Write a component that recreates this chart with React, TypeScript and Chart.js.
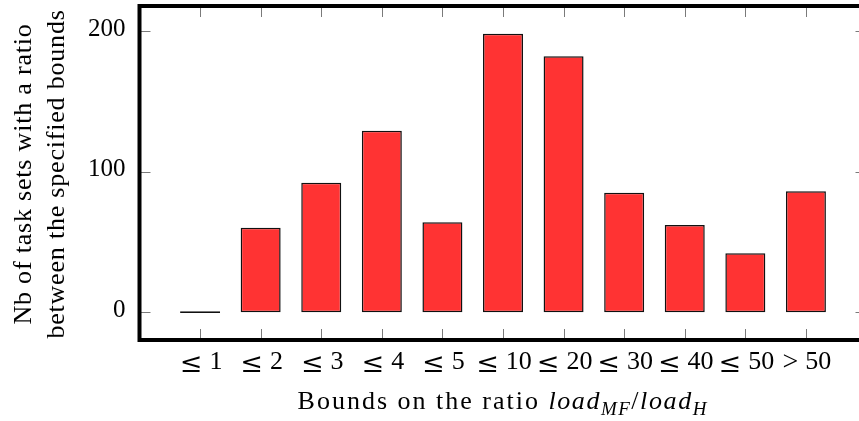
import { useEffect, useRef } from "react";
import { Chart, registerables } from "chart.js";

Chart.register(...registerables);

// ---- data ----
const categories = ["≤ 1", "≤ 2", "≤ 3", "≤ 4", "≤ 5", "≤ 10", "≤ 20", "≤ 30", "≤ 40", "≤ 50", "> 50"];
const counts = [0, 60, 92, 129, 64, 198, 182, 85, 62, 42, 86];
const yTicks = [0, 100, 200];
const yMin = -19.8;
const yMax = 217.8;
const yTitleLines = ["Nb of task sets with a ratio", "between the specified bounds"];
const xTitleRoman = "Bounds on the ratio ";
const xTitleNum = "load";
const xTitleNumSub = "MF";
const xTitleSlash = "/";
const xTitleDen = "load";
const xTitleDenSub = "H";

// padded with an empty slot at each end (axis enlarged by one category on each side)
const labels = ["", ...categories, ""];
const values: (number | null)[] = [null, ...counts, null];

const SERIF = "'Liberation Serif', 'Times New Roman', serif";
const MATH = "'DejaVu Serif', serif";

const framePlugin = {
  id: "pgfFrame",
  afterDraw(chart: any) {
    const { ctx, chartArea } = chart;
    const { left, right, top, bottom } = chartArea;
    const xs = chart.scales.x;
    const ys = chart.scales.y;
    ctx.save();
    // inward ticks
    ctx.strokeStyle = "#7a7a7a";
    ctx.lineWidth = 1;
    ctx.beginPath();
    labels.forEach((lab, i) => {
      if (!lab) return;
      const px = Math.round(xs.getPixelForValue(i)) + 0.5;
      ctx.moveTo(px, top);
      ctx.lineTo(px, top + 11);
      ctx.moveTo(px, bottom);
      ctx.lineTo(px, bottom - 11);
    });
    yTicks.forEach((v) => {
      const py = Math.round(ys.getPixelForValue(v)) + 0.5;
      ctx.moveTo(left, py);
      ctx.lineTo(left + 11, py);
      ctx.moveTo(right, py);
      ctx.lineTo(right - 11, py);
    });
    ctx.stroke();

    // thick frame
    ctx.strokeStyle = "#000";
    ctx.lineWidth = 4;
    ctx.strokeRect(left, top, right - left, bottom - top);

    ctx.fillStyle = "#000";
    ctx.textBaseline = "alphabetic";

    // x tick labels: relation symbol + number
    ctx.textAlign = "left";
    const labBase = bottom + 29;
    labels.forEach((lab, i) => {
      if (!lab) return;
      const [sym, num] = lab.split(" ");
      const px = xs.getPixelForValue(i);
      const symFont = sym === "≤" ? `27px ${MATH}` : `28px ${SERIF}`;
      ctx.font = symFont;
      const ws = ctx.measureText(sym).width;
      ctx.font = `26px ${SERIF}`;
      const wn = ctx.measureText(num).width;
      const gap = 7;
      const x0 = px - (ws + gap + wn) / 2 + 1;
      ctx.font = symFont;
      ctx.fillText(sym, x0, labBase + (sym === "≤" ? 3 : 1));
      ctx.font = `26px ${SERIF}`;
      ctx.fillText(num, x0 + ws + gap, labBase);
    });

    // y title (two lines, rotated)
    ctx.font = `26px ${SERIF}`;
    (ctx as any).letterSpacing = "0.8px";
    ctx.textAlign = "center";
    const cy = (top + bottom) / 2 + 1;
    const baseX = [31, 64];
    yTitleLines.forEach((line, i) => {
      ctx.save();
      ctx.translate(baseX[i], cy);
      ctx.rotate(-Math.PI / 2);
      ctx.fillText(line, 0, 0);
      ctx.restore();
    });

    // x title with italic math and subscripts
    const runs = [
      { t: xTitleRoman, f: `26px ${SERIF}`, dy: 0, ls: "2px" },
      { t: xTitleNum, f: `italic 26px ${SERIF}`, dy: 0, ls: "1.6px" },
      { t: xTitleNumSub, f: `italic 19px ${SERIF}`, dy: 6, ls: "1.4px" },
      { t: xTitleSlash, f: `26px ${SERIF}`, dy: 0, ls: "1.6px" },
      { t: xTitleDen, f: `italic 26px ${SERIF}`, dy: 0, ls: "1.6px" },
      { t: xTitleDenSub, f: `italic 19px ${SERIF}`, dy: 6, ls: "0px" },
    ];
    ctx.textAlign = "left";
    let total = 0;
    const widths = runs.map((r) => {
      ctx.font = r.f;
      (ctx as any).letterSpacing = r.ls;
      const w = ctx.measureText(r.t).width;
      total += w;
      return w;
    });
    let x = 502 - total / 2;
    const baseY = 409;
    runs.forEach((r, i) => {
      ctx.font = r.f;
      (ctx as any).letterSpacing = r.ls;
      ctx.fillText(r.t, x, baseY + r.dy);
      x += widths[i];
    });
    ctx.restore();
  },
};

export default function App() {
  const ref = useRef<HTMLCanvasElement | null>(null);

  useEffect(() => {
    if (!ref.current) return;
    const chart = new Chart(ref.current, {
      type: "bar",
      data: {
        labels,
        datasets: [
          {
            data: values,
            backgroundColor: "#ff3333",
            borderColor: "#111",
            borderWidth: 1.5,
            borderSkipped: false,
            minBarLength: 1.6,
            categoryPercentage: 1,
            barPercentage: 0.66,
          },
        ],
      },
      options: {
        animation: false,
        responsive: false,
        layout: { padding: { left: 0, right: 13.5, top: 6, bottom: 0 } },
        plugins: { legend: { display: false }, tooltip: { enabled: false } },
        scales: {
          x: {
            type: "category",
            offset: false,
            grid: { display: false, drawTicks: false },
            border: { display: false },
            ticks: { display: false, autoSkip: false, maxRotation: 0, minRotation: 0 },
            afterFit: (s: any) => {
              s.height = 81;
              s.paddingLeft = 0;
              s.paddingRight = 0;
            },
          },
          y: {
            min: yMin,
            max: yMax,
            grid: { display: false, drawTicks: false },
            border: { display: false },
            ticks: {
              padding: 14,
              labelOffset: -2,
              color: "#000",
              font: { family: SERIF, size: 25, lineHeight: 1.2 },
            },
            afterBuildTicks: (s: any) => {
              s.ticks = yTicks.map((v) => ({ value: v }));
            },
            afterFit: (s: any) => {
              s.width = 139.5;
              s.paddingTop = 0;
              s.paddingBottom = 0;
            },
          },
        },
      },
      plugins: [framePlugin],
    });
    return () => chart.destroy();
  }, []);

  return (
    <div
      style={{
        position: "fixed",
        left: 0,
        top: 0,
        width: 859,
        height: 421,
        overflow: "hidden",
        background: "#fff",
      }}
    >
      <canvas ref={ref} width={880} height={421} style={{ display: "block" }} />
    </div>
  );
}
